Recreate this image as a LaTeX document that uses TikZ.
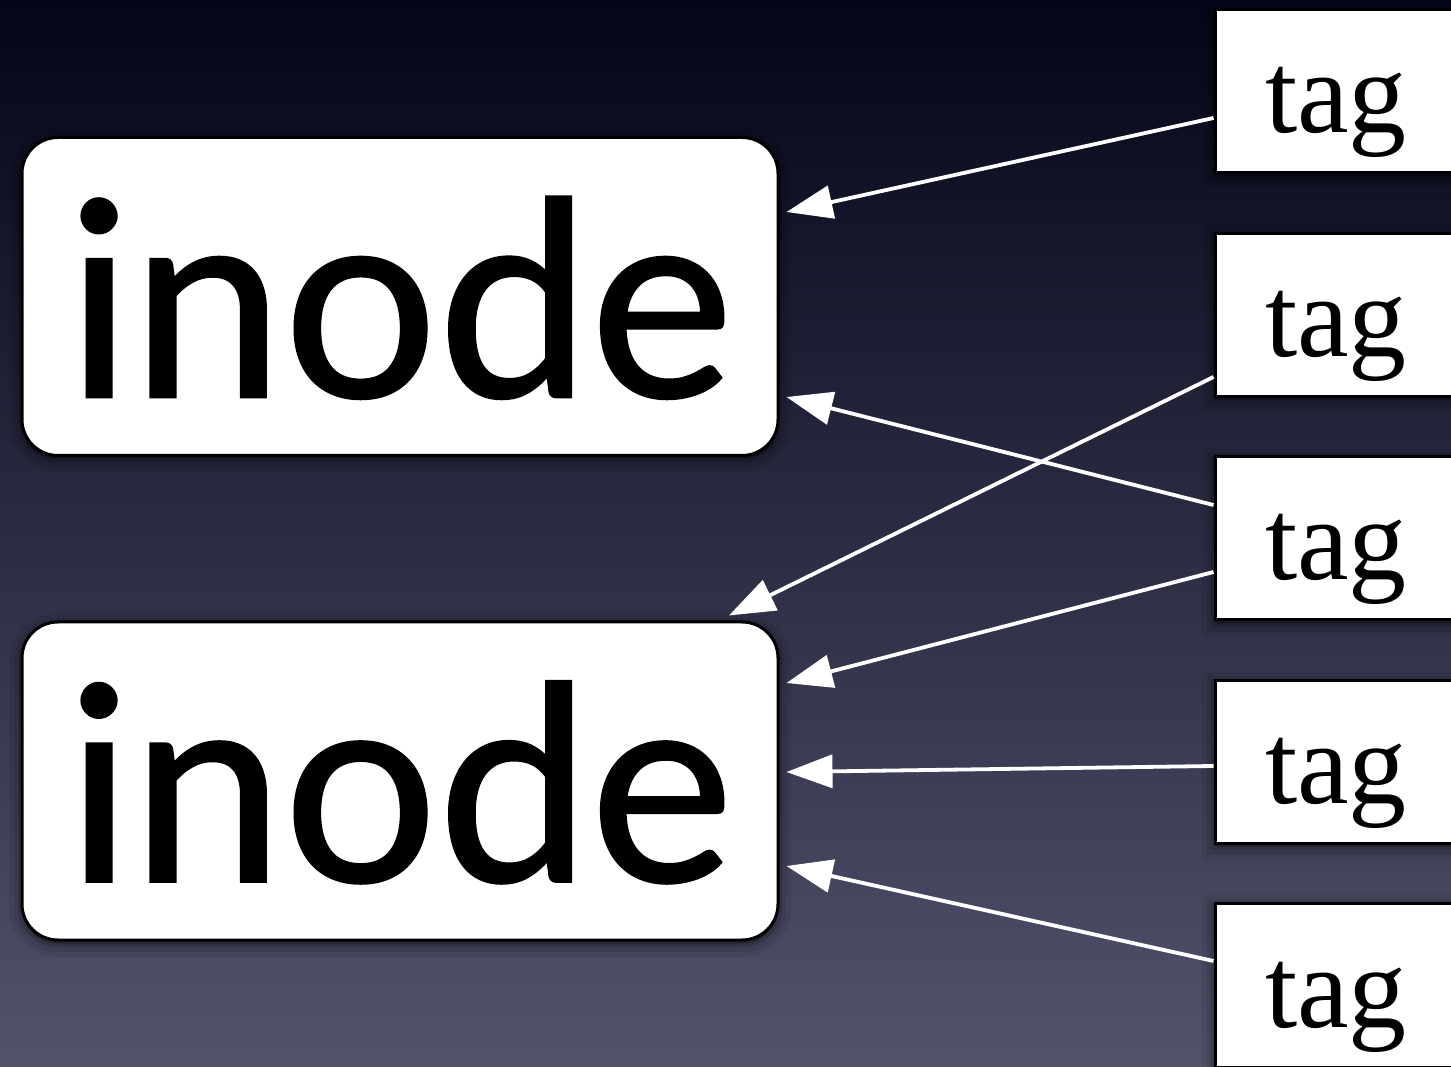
\documentclass[tikz,border=0pt]{standalone}
\usepackage{fontspec}
\setmainfont{Liberation Serif}
\newfontfamily\inodefont{Lato}[FakeBold=1]
\usetikzlibrary{arrows.meta,shadows}
\definecolor{bgtop}{RGB}{4,5,24}
\definecolor{bgmid}{RGB}{34,35,62}
\definecolor{bgbot}{RGB}{82,83,108}
\begin{document}
\begin{tikzpicture}[x=1pt,y=1pt,
  softshadow/.style={
    general shadow={fill=black,draw=black,line width=26pt,opacity=0.07,shadow yshift=-4pt},
    general shadow={fill=black,draw=black,line width=16pt,opacity=0.09,shadow yshift=-4pt},
    general shadow={fill=black,draw=black,line width=8pt,opacity=0.14,shadow yshift=-3pt}},
  inodebox/.style={softshadow,draw=black,line width=3pt,fill=white,rounded corners=36pt,
    minimum width=756pt,text height=259.5pt,text depth=58.5pt,inner sep=0pt,
    font=\inodefont\fontsize{272}{290}\selectfont},
  tagbox/.style={softshadow,draw=black,line width=3pt,fill=white,
    minimum width=242pt,text height=123pt,text depth=40pt,inner sep=0pt,
    font=\fontsize{116}{120}\selectfont},
  link/.style={white,line width=3.8pt,-{Triangle[length=46pt,width=33pt]}}]
\useasboundingbox (0,0) rectangle (1451,1066);
\shade[top color=bgtop,middle color=bgmid,bottom color=bgbot] (0,0) rectangle (1451,1066);
\clip (0,0) rectangle (1451,1066);
\node[inodebox] (in1) at (400,769.5) {inode};
\node[inodebox] (in2) at (400,285) {inode};
\node[tagbox] (t1) at (1336,974.5) {tag};
\node[tagbox] (t2) at (1336,751) {tag};
\node[tagbox] (t3) at (1336,527.5) {tag};
\node[tagbox] (t4) at (1336,304) {tag};
\node[tagbox] (t5) at (1336,80.5) {tag};
\draw[link] ([yshift=-26.5pt]t1.west) -- ([xshift=7pt,yshift=84.5pt]in1.east);
\draw[link] ([yshift=33.5pt]t3.west) -- ([xshift=7pt,yshift=-100.5pt]in1.east);
\draw[link] ([yshift=-62pt]t2.west) -- ([xshift=329pt,yshift=5pt]in2.north);
\draw[link] ([yshift=-33.5pt]t3.west) -- ([xshift=7pt,yshift=98pt]in2.east);
\draw[link] ([yshift=-4pt]t4.west) -- ([xshift=7pt,yshift=9pt]in2.east);
\draw[link] ([yshift=24.5pt]t5.west) -- ([xshift=7pt,yshift=-85pt]in2.east);
\end{tikzpicture}
\end{document}
